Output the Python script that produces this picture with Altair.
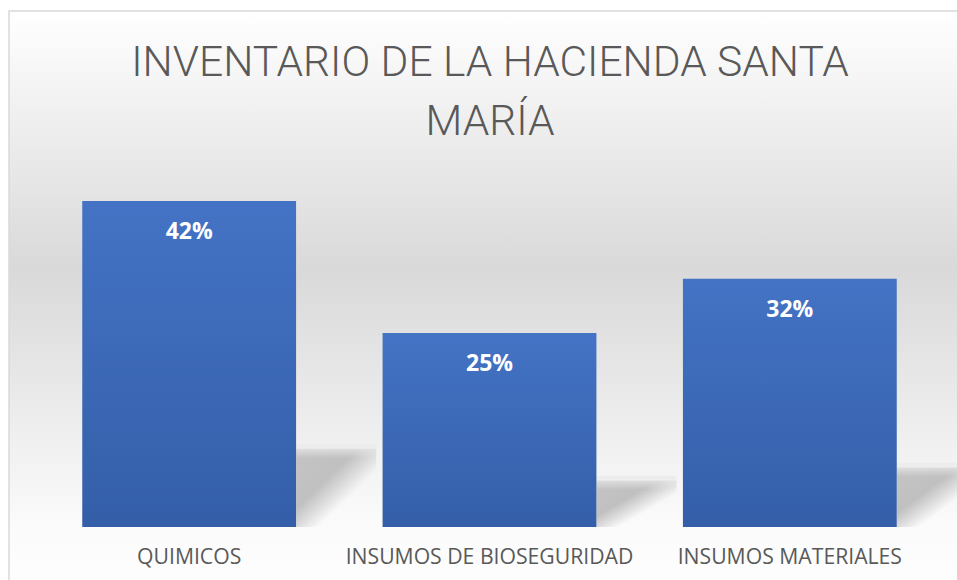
import altair as alt
import pandas as pd

# ---- data ----
categorias = ["QUIMICOS", "INSUMOS DE BIOSEGURIDAD", "INSUMOS MATERIALES"]
porcentajes = [0.42, 0.25, 0.32]
titulo = ["INVENTARIO DE LA HACIENDA SANTA", "MARÍA"]

df = pd.DataFrame({"categoria": categorias, "valor": porcentajes})
bg = pd.DataFrame({"k": [0]})

W, H = 948, 569

x_scale = alt.Scale(domain=categorias, range=[30, 931], paddingInner=0.288, paddingOuter=0.144)
y_scale = alt.Scale(domain=[0, 0.665], range=[516, 0], nice=False, zero=True)

x_axis = alt.Axis(
    title=None, orient="bottom", domain=False, ticks=False, tickSize=0,
    grid=False, labelAngle=0, labelFont="Open Sans", labelFontSize=21.2,
    labelColor="#595959", labelPadding=0, labelBaseline="middle",
    offset=-23, labelLimit=0, zindex=2,
)

bg_gradient = {
    "gradient": "linear", "x1": 0, "y1": 0, "x2": 0, "y2": 1,
    "stops": [
        {"offset": 0.0, "color": "#ffffff"},
        {"offset": 0.43, "color": "#d9d9d9"},
        {"offset": 0.86, "color": "#fbfbfb"},
        {"offset": 1.0, "color": "#ffffff"},
    ],
}
bar_gradient = {
    "gradient": "linear", "x1": 0, "y1": 0, "x2": 0, "y2": 1,
    "stops": [
        {"offset": 0.0, "color": "#4473c5"},
        {"offset": 1.0, "color": "#345ea8"},
    ],
}
shadow_gradient = {
    "gradient": "linear", "x1": 1, "y1": 1, "x2": 0, "y2": 0,
    "stops": [
        {"offset": 0.0, "color": "rgba(190,190,190,0)"},
        {"offset": 0.36, "color": "rgba(190,190,190,0)"},
        {"offset": 0.62, "color": "rgba(192,192,192,1)"},
        {"offset": 1.0, "color": "rgba(196,196,196,1)"},
    ],
}
fade_gradient = {
    "gradient": "linear", "x1": 0, "y1": 0, "x2": 0, "y2": 1,
    "stops": [
        {"offset": 0.0, "color": "rgba(236,236,236,1)"},
        {"offset": 1.0, "color": "rgba(236,236,236,0)"},
    ],
}

background = alt.Chart(bg).mark_rect(
    fill=bg_gradient, stroke="#d9d9d9", strokeWidth=1.5
).encode(
    x=alt.value(0), x2=alt.value(975), y=alt.value(0), y2=alt.value(600)
)

x_enc = alt.X("categoria:N", scale=x_scale, sort=categorias, axis=x_axis)

shadow_base = alt.Chart(df).transform_calculate(
    sombra="datum.valor * 0.24",
    fade_top="datum.valor * 0.24 + 0.006",
    fade_bot="datum.valor * 0.24 - 0.012",
)

shadow = shadow_base.mark_bar(width=80, xOffset=147, fill=shadow_gradient).encode(
    x=x_enc,
    y=alt.Y("sombra:Q", scale=y_scale, axis=None),
)

shadow_fade = shadow_base.mark_bar(width=80, xOffset=147, fill=fade_gradient).encode(
    x=x_enc,
    y=alt.Y("fade_top:Q", scale=y_scale, axis=None),
    y2="fade_bot:Q",
)

bars = alt.Chart(df).mark_bar(fill=bar_gradient).encode(
    x=x_enc,
    y=alt.Y("valor:Q", scale=y_scale, axis=None),
)

labels = alt.Chart(df).mark_text(
    color="white", font="Open Sans", fontWeight="bold", fontSize=23,
    baseline="middle", dy=31,
).encode(
    x=x_enc,
    y=alt.Y("valor:Q", scale=y_scale, axis=None),
    text=alt.Text("valor:Q", format=".0%"),
)

chart = alt.layer(background, shadow, shadow_fade, bars, labels).properties(
    width=W, height=H,
    title=alt.TitleParams(
        text=titulo, font="Roboto", fontSize=42.5, fontWeight=300, color="#595959",
        anchor="middle", lineHeight=59, baseline="alphabetic", offset=0, dy=167,
        dx=7, frame="group",
    ),
    autosize=alt.AutoSizeParams(type="none"),
    padding={"left": 9, "top": 11, "right": 0, "bottom": 0},
).configure_view(stroke=None).configure(background="white")

chart.save("out.html", embed_options={"renderer": "svg", "actions": False})
